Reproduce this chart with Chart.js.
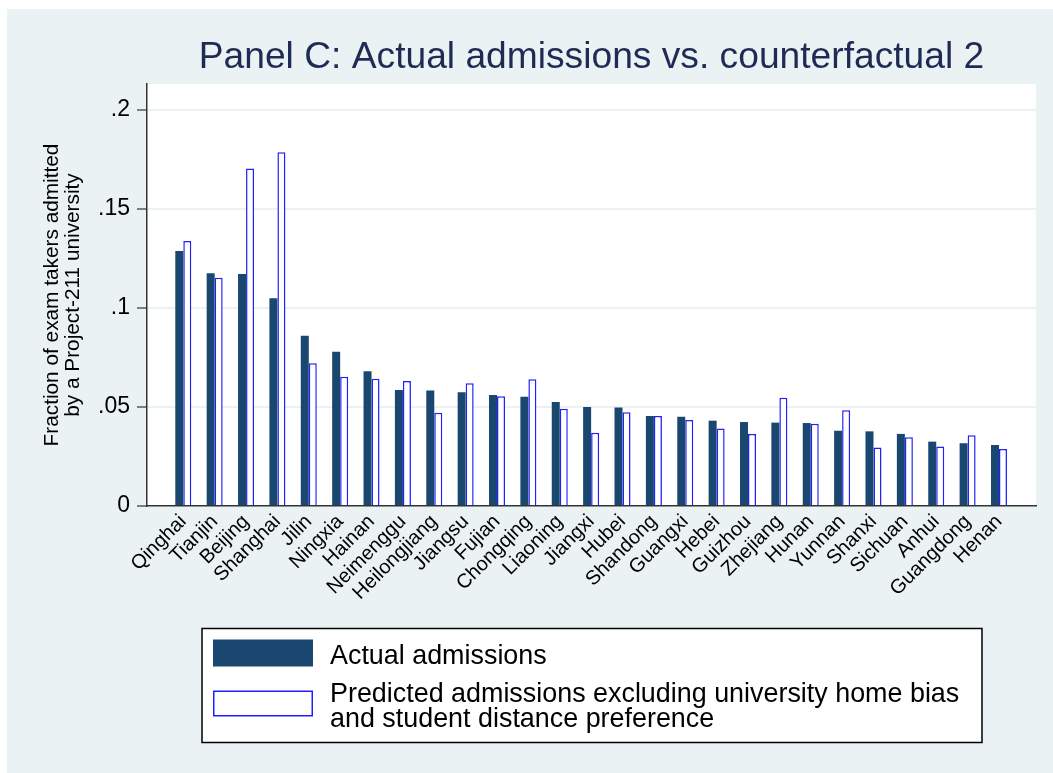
<!DOCTYPE html>
<html>
<head>
<meta charset="utf-8">
<script src="https://cdn.jsdelivr.net/npm/chart.js@4.4.1/dist/chart.umd.min.js"></script>
<style>
  html, body { margin: 0; padding: 0; background: #fff; overflow: hidden; }
  #wrap { position: relative; width: 1053px; height: 773px; }
</style>
</head>
<body>
<div id="wrap"><canvas id="chart" width="1053" height="773"></canvas></div>
<script>
// Provinces, ordered by actual admission rate
const provinces = ['Qinghai', 'Tianjin', 'Beijing', 'Shanghai', 'Jilin', 'Ningxia', 'Hainan',
  'Neimenggu', 'Heilongjiang', 'Jiangsu', 'Fujian', 'Chongqing', 'Liaoning', 'Jiangxi', 'Hubei',
  'Shandong', 'Guangxi', 'Hebei', 'Guizhou', 'Zhejiang', 'Hunan', 'Yunnan', 'Shanxi', 'Sichuan',
  'Anhui', 'Guangdong', 'Henan'];

// Fraction of exam takers admitted by a Project-211 university
const actualAdmissions = [0.1288, 0.1175, 0.1172, 0.1049, 0.0860, 0.0779, 0.0680,
  0.0586, 0.0583, 0.0574, 0.0561, 0.0552, 0.0525, 0.0500, 0.0497,
  0.0455, 0.0451, 0.0431, 0.0424, 0.0421, 0.0419, 0.0380, 0.0377, 0.0364,
  0.0325, 0.0317, 0.0308];

// Counterfactual 2: no university home bias, no student distance preference
const predictedAdmissions = [0.1338, 0.1153, 0.1704, 0.1786, 0.0721, 0.0653, 0.0643,
  0.0631, 0.0471, 0.0620, 0.0554, 0.0640, 0.0491, 0.0370, 0.0473,
  0.0455, 0.0434, 0.0392, 0.0364, 0.0547, 0.0416, 0.0483, 0.0295, 0.0347,
  0.0300, 0.0357, 0.0288];

// Y axis ticks and their printed labels
const yTickValues = [0, 0.05, 0.1, 0.15, 0.2];
const yTickLabels = ['0', '.05', '.1', '.15', '.2'];

// Legend entries (one array of text lines per series)
const seriesNames = [
  ['Actual admissions'],
  ['Predicted admissions excluding university home bias', 'and student distance preference']
];

const chartTitle = 'Panel C: Actual admissions vs. counterfactual 2';
const yAxisTitle = ['Fraction of exam takers admitted', 'by a Project-211 university'];

const FONT = '"Liberation Sans", Arial, Helvetica, sans-serif';
const REGION = '#EAF2F3';
const NAVY = '#1A476F';
const BLUE = '#2020FF';

// Graph region, plot region backgrounds
const backdrop = {
  id: 'backdrop',
  beforeDraw(chart) {
    const { ctx, chartArea: a } = chart;
    ctx.save();
    ctx.fillStyle = '#ffffff';
    ctx.fillRect(0, 0, chart.width, chart.height);
    ctx.fillStyle = REGION;
    ctx.fillRect(7, 9, chart.width - 7, chart.height - 9);
    ctx.fillStyle = '#ffffff';
    ctx.fillRect(a.left, a.top, a.right - a.left, a.bottom - a.top);
    ctx.restore();
  }
};

// Boxed legend below the axis labels
const boxedLegend = {
  id: 'boxedLegend',
  afterDraw(chart) {
    const ctx = chart.ctx;
    const ds = chart.data.datasets;
    ctx.save();
    ctx.fillStyle = '#ffffff';
    ctx.fillRect(202, 628.5, 780, 114);
    ctx.strokeStyle = '#000000';
    ctx.lineWidth = 1.5;
    ctx.strokeRect(202, 628.5, 780, 114);

    const rows = [{ top: 639.5, h: 27, textBase: 664 }, { top: 690.5, h: 26, textBase: 702 }];
    ctx.font = '26.9px ' + FONT;
    ctx.textBaseline = 'alphabetic';
    ctx.textAlign = 'left';
    rows.forEach((r, i) => {
      const d = ds[i];
      ctx.fillStyle = d.backgroundColor;
      ctx.fillRect(213, r.top, 100, r.h);
      if (d.borderWidth) {
        ctx.strokeStyle = d.borderColor;
        ctx.lineWidth = 1.5;
        ctx.strokeRect(213.75, r.top + 0.75, 98.5, r.h - 1.5);
      }
      ctx.fillStyle = '#000000';
      seriesNames[i].forEach((line, k) => {
        ctx.fillText(line, 330, r.textBase + k * 25);
      });
    });
    ctx.restore();
  }
};

const toPoints = (vals) => vals.map((v, i) => ({ x: i, y: v }));

new Chart(document.getElementById('chart'), {
  type: 'bar',
  data: {
    datasets: [
      {
        label: seriesNames[0].join(' '),
        data: toPoints(actualAdmissions),
        backgroundColor: NAVY,
        borderWidth: 0,
        categoryPercentage: 0.51,
        barPercentage: 1.0
      },
      {
        label: seriesNames[1].join(' '),
        data: toPoints(predictedAdmissions),
        backgroundColor: '#ffffff',
        borderColor: BLUE,
        borderWidth: 1.5,
        categoryPercentage: 0.51,
        barPercentage: 1.0
      }
    ]
  },
  options: {
    responsive: false,
    devicePixelRatio: 1,
    animation: false,
    layout: { padding: { top: 9, left: 0, right: 17, bottom: 0 } },
    plugins: {
      legend: { display: false },
      tooltip: { enabled: false },
      title: {
        display: true,
        fullSize: false,
        text: chartTitle,
        color: '#1E2B55',
        font: { family: FONT, size: 37.2, weight: 'normal', lineHeight: 1.2 },
        padding: { top: 26, bottom: 4.4 }
      }
    },
    scales: {
      x: {
        type: 'linear',
        offset: false,
        min: -1.157,
        max: 27.18,
        afterBuildTicks(scale) {
          scale.ticks = provinces.map((_, i) => ({ value: i }));
        },
        afterFit(scale) { scale.height = 267; },
        grid: { display: false, drawTicks: false },
        border: { display: true, color: '#333333', width: 1.5 },
        ticks: {
          autoSkip: false,
          minRotation: 45,
          maxRotation: 45,
          padding: 4,
          color: '#000000',
          font: { family: FONT, size: 20 },
          callback: (v) => provinces[v] ?? ''
        }
      },
      y: {
        min: 0,
        max: 0.2131,
        afterBuildTicks(scale) {
          scale.ticks = yTickValues.map((v) => ({ value: v }));
        },
        afterFit(scale) { scale.width = 147; },
        grid: {
          color: REGION,
          lineWidth: 2,
          tickColor: '#333333',
          tickWidth: 1.2,
          tickLength: 10
        },
        border: { display: true, color: '#333333', width: 1.5 },
        ticks: {
          padding: 7,
          color: '#000000',
          font: { family: FONT, size: 23 },
          callback: (v) => yTickLabels[yTickValues.indexOf(v)] ?? ''
        },
        title: {
          display: true,
          text: yAxisTitle,
          color: '#000000',
          font: { family: FONT, size: 20.8, lineHeight: 1.04 },
          padding: { top: 41, bottom: 0 }
        }
      }
    }
  },
  plugins: [backdrop, boxedLegend]
});
</script>
</body>
</html>
